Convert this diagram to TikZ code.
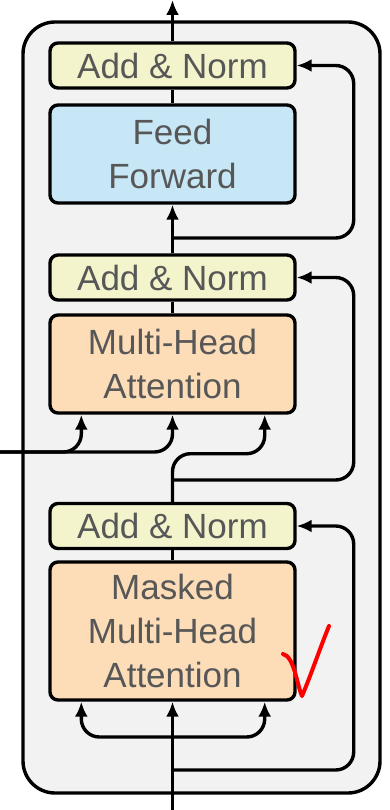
\documentclass[tikz,border=0pt]{standalone}
\usepackage{fontspec}
\setmainfont{Liberation Sans}
\usepackage{xcolor}
\usepackage{tikz}
\usetikzlibrary{arrows.meta, positioning, calc}
\definecolor{normfill}{HTML}{F3F4CB}
\definecolor{fffill}{HTML}{C8E7F6}
\definecolor{attnfill}{HTML}{FCDDB8}
\definecolor{layerfill}{HTML}{F2F2F2}
\tikzset{
  blk/.style={rectangle, draw=black, line width=3.4pt, rounded corners=8pt,
              minimum width=245pt, text=black!66, align=center,
              font=\fontsize{35}{44}\selectfont},
  addnorm/.style={blk, fill=normfill, minimum height=45pt},
  ffbox/.style={blk, fill=fffill, minimum height=98pt},
  attn/.style={blk, fill=attnfill, minimum height=98pt},
  arc/.style={-{Latex[length=15pt, width=13pt]}, line width=3.4pt},
  res/.style={arc, rounded corners=18pt}
}
\begin{document}
\begin{tikzpicture}[x=1pt, y=-1pt]
  \useasboundingbox (0,0) rectangle (390,810);
  \draw[line width=3.4pt, fill=layerfill, rounded corners=32pt] (23,22) rectangle (380,793);

  \node[addnorm] (an3) at (172.5,65.5) {Add \& Norm};
  \node[ffbox] (ff) at (172.5,154) {Feed\\Forward};
  \node[addnorm] (an2) at (172.5,277.5) {Add \& Norm};
  \node[attn] (mha) at (172.5,364) {Multi-Head\\Attention};
  \node[addnorm] (an1) at (172.5,526) {Add \& Norm};
  \node[attn, minimum height=138pt] (mmha) at (172.5,631) {Masked\\Multi-Head\\Attention};

  \coordinate (out) at (172.5,0);
  \coordinate (in) at (172.5,810);
  \coordinate (enc) at (0,452);
  \coordinate (b3) at (172.5,238);
  \coordinate (b2) at (172.5,480);
  \coordinate (b1) at (172.5,770);
  \coordinate (b0) at (172.5,737);

  % main path
  \draw[arc] (an3) -- (out);
  \draw[line width=3.4pt] (an3) -- (ff);
  \draw[arc] (an2) -- (ff);
  \draw[line width=3.4pt] (an2) -- (mha);
  \draw[line width=3.4pt] (an1) -- (mmha);
  \draw[arc] (in) -- (mmha);

  % residual connections
  \draw[res] (b3) -| ($(an3.east)+(57,0)$) -- (an3.east);
  \draw[res] (b2) -| ($(an2.east)+(57,0)$) -- (an2.east);
  \draw[res] (b1) -| ($(an1.east)+(57,0)$) -- (an1.east);

  % attention inputs
  \draw[res] (enc) -| ($(mha.south west)+(33,0)$);
  \draw[res] (enc) -| (mha.south);
  \draw[res] (an1.north) |- ($(mha.south east)+(-32,39)$) -- ($(mha.south east)+(-32,0)$);
  \draw[res] (b0) -| ($(mmha.south west)+(33,0)$);
  \draw[res] (b0) -| ($(mmha.south east)+(-32,0)$);

  % handwritten tick
  \draw[red, line width=4pt, line cap=round, line join=round]
    (283,654) .. controls (294,656) and (297,685) .. (302,696)
    .. controls (311,675) and (320,648) .. (329,626);
\end{tikzpicture}
\end{document}
